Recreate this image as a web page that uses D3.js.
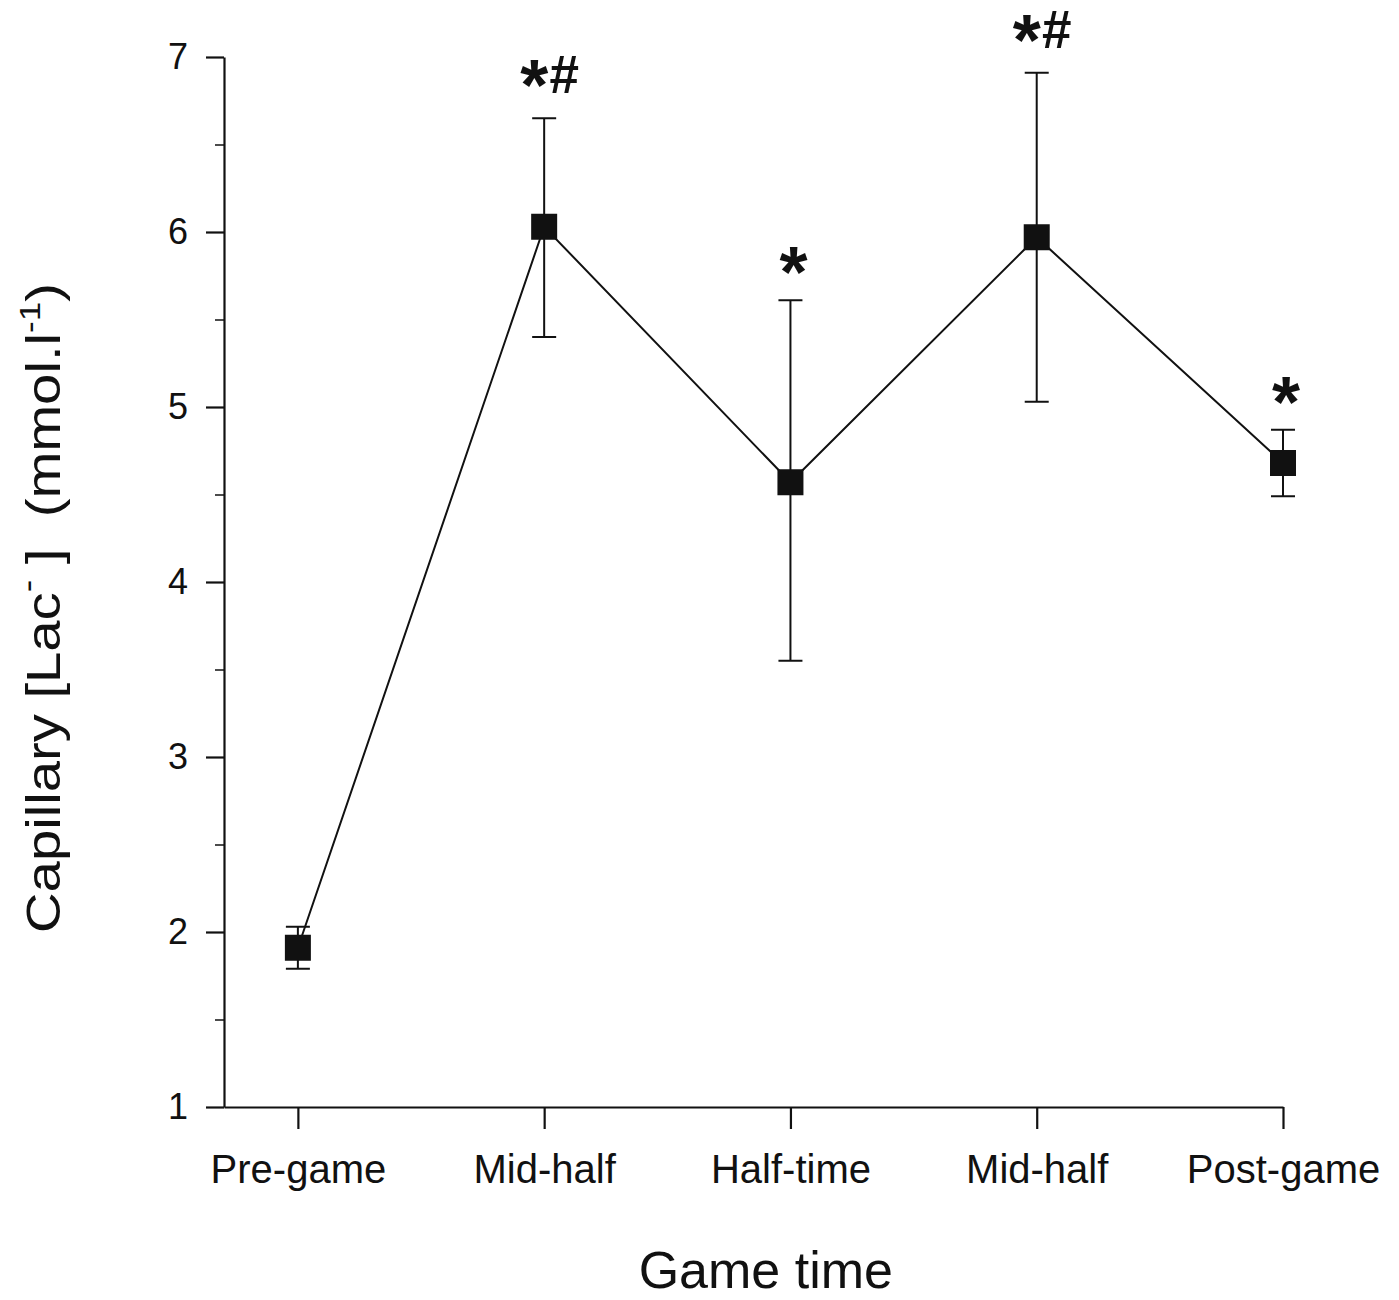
<!DOCTYPE html>
<html>
<head>
<meta charset="utf-8">
<script src="https://cdn.jsdelivr.net/npm/d3@7"></script>
<style>
  body { margin: 0; background: #fff; }
  text { font-family: "Liberation Sans", Arial, sans-serif; fill: #111; }
</style>
</head>
<body>
<svg id="chart" width="1399" height="1300"></svg>
<script>
// data
const categories = ["Pre-game", "Mid-half", "Half-time", "Mid-half", "Post-game"];
const lactate = [1.91, 6.03, 4.57, 5.97, 4.68];
const errUpper = [2.03, 6.65, 5.61, 6.91, 4.87];
const errLower = [1.79, 5.40, 3.55, 5.03, 4.49];
const markStar = ["", "*", "*", "*", "*"];
const markHash = ["", "#", "", "#", ""];
const yTicks = [1, 2, 3, 4, 5, 6, 7];
const yMinorTicks = [1.5, 2.5, 3.5, 4.5, 5.5, 6.5];

const svg = d3.select("#chart");

const x = d3.scaleLinear().domain([-0.3, 4]).range([224, 1283]);
const y = d3.scaleLinear().domain([1, 7]).range([1107, 57]);

const points = categories.map((c, i) => ({
  i: i, name: c, v: lactate[i], hi: errUpper[i], lo: errLower[i],
  star: markStar[i], hash: markHash[i]
}));

// y axis
const yAxis = svg.append("g")
  .attr("class", "y-axis")
  .attr("transform", `translate(${x(-0.3)},0)`)
  .call(d3.axisLeft(y).tickValues(yTicks).tickSize(18).tickSizeOuter(0).tickPadding(18).tickFormat(d3.format("d")));
yAxis.select(".domain").attr("stroke", "#111").attr("stroke-width", 2.2);
yAxis.selectAll(".tick line").attr("stroke", "#111").attr("stroke-width", 2.2);
yAxis.selectAll(".tick text").style("font-size", "36px").attr("fill", "#111");

svg.append("g")
  .attr("transform", `translate(${x(-0.3)},0)`)
  .call(d3.axisLeft(y).tickValues(yMinorTicks).tickSize(9).tickFormat(""))
  .call(g => g.select(".domain").remove())
  .selectAll(".tick line").attr("stroke", "#111").attr("stroke-width", 1.5);

// x axis
const xAxis = svg.append("g")
  .attr("class", "x-axis")
  .attr("transform", `translate(0,${y(1)})`)
  .call(d3.axisBottom(x).tickValues(d3.range(categories.length)).tickSize(22).tickSizeOuter(0).tickPadding(26)
    .tickFormat(i => categories[i]));
xAxis.select(".domain").attr("stroke", "#111").attr("stroke-width", 2.2);
xAxis.selectAll(".tick line").attr("stroke", "#111").attr("stroke-width", 2.2);
xAxis.selectAll(".tick text").style("font-size", "40px").attr("fill", "#111");

// axis titles
svg.append("text")
  .attr("x", x(1.9))
  .attr("y", 1288)
  .attr("text-anchor", "middle")
  .style("font-size", "52px")
  .text("Game time");

const yTitle = svg.append("text")
  .attr("transform", "translate(60,608) rotate(-90)")
  .attr("text-anchor", "middle")
  .attr("textLength", 650)
  .attr("lengthAdjust", "spacingAndGlyphs")
  .style("font-size", "48px");
yTitle.append("tspan").text("Capillary [Lac");
yTitle.append("tspan").attr("dy", -22).style("font-size", "32px").text("-");
yTitle.append("tspan").attr("dy", 22).text("\u00a0]\u00a0\u00a0(mmol.l");
yTitle.append("tspan").attr("dy", -20).style("font-size", "30px").text("-1");
yTitle.append("tspan").attr("dy", 20).text(")");

// error bars
const eb = svg.append("g").attr("class", "errors");
eb.selectAll("line.stem")
  .data(points)
  .join("line")
  .attr("class", "stem")
  .attr("x1", d => x(d.i)).attr("x2", d => x(d.i))
  .attr("y1", d => y(d.hi)).attr("y2", d => y(d.lo))
  .attr("stroke", "#111").attr("stroke-width", 2);
eb.selectAll("line.cap")
  .data(points.flatMap(d => [{i: d.i, v: d.hi}, {i: d.i, v: d.lo}]))
  .join("line")
  .attr("class", "cap")
  .attr("x1", d => x(d.i) - 12).attr("x2", d => x(d.i) + 12)
  .attr("y1", d => y(d.v)).attr("y2", d => y(d.v))
  .attr("stroke", "#111").attr("stroke-width", 2);

// line
const line = d3.line().x(d => x(d.i)).y(d => y(d.v));
svg.append("path")
  .datum(points)
  .attr("d", line)
  .attr("fill", "none")
  .attr("stroke", "#111")
  .attr("stroke-width", 2);

// markers
svg.selectAll("rect.marker")
  .data(points)
  .join("rect")
  .attr("class", "marker")
  .attr("x", d => x(d.i) - 13)
  .attr("y", d => y(d.v) - 13)
  .attr("width", 26)
  .attr("height", 26)
  .attr("fill", "#111");

// significance marks
const marks = svg.append("g").attr("class", "marks");
marks.selectAll("text.star")
  .data(points.filter(d => d.star))
  .join("text")
  .attr("class", "star")
  .attr("x", d => x(d.i) + (d.hash ? -10 : 3))
  .attr("y", d => y(d.hi) + (d.hash ? -8 : -3))
  .attr("text-anchor", "middle")
  .style("font-size", "72px")
  .style("font-weight", "bold")
  .text(d => d.star);
marks.selectAll("text.hash")
  .data(points.filter(d => d.hash))
  .join("text")
  .attr("class", "hash")
  .attr("x", d => x(d.i) + 20)
  .attr("y", d => y(d.hi) - 25)
  .attr("text-anchor", "middle")
  .style("font-size", "53px")
  .style("font-weight", "bold")
  .text(d => d.hash);
</script>
</body>
</html>
